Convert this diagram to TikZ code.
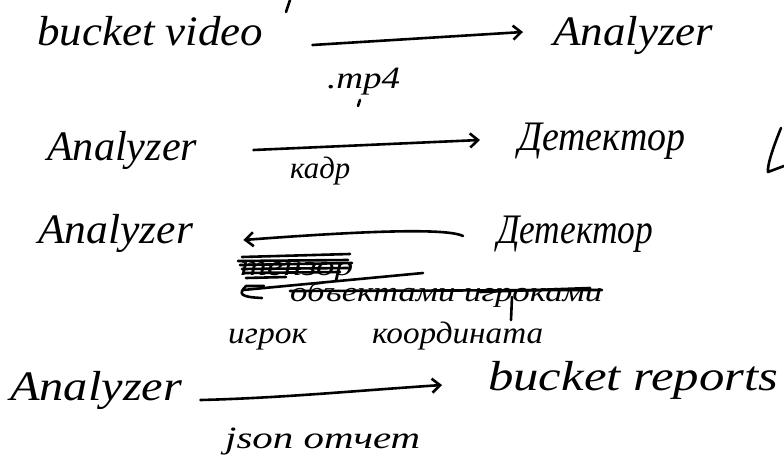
\documentclass[tikz,border=0pt]{standalone}
\usepackage{fontspec}
\usepackage{graphicx}
\setmainfont{Liberation Serif}
\usetikzlibrary{arrows.meta,calc}
\newcommand{\fitw}[2]{\resizebox{#1pt}{\height}{#2}}
\begin{document}
\begin{tikzpicture}[x=1pt,y=-1pt,
  hw/.style={font=\fontsize{42}{48}\selectfont\itshape, inner sep=0pt, anchor=base west},
  lbl/.style={font=\fontsize{31}{36}\selectfont\itshape, inner sep=0pt, anchor=base west},
  sml/.style={font=\fontsize{28}{32}\selectfont\itshape, inner sep=0pt, anchor=base west},
  flow/.style={line width=2.6pt, line cap=round, -{Straight Barb[length=8pt,width=14pt,line width=2.6pt]}},
  ink/.style={line width=2.6pt, line cap=round, line join=round}]
\useasboundingbox[fill=white] (0,0) rectangle (784,458);

% row 1
\node[hw] (bv) at (37,45) {\fitw{226}{bucket video}};
\node[hw] (an1) at (553,45) {\fitw{160}{Analyzer}};
\node[lbl] (l1) at (327,88) {\fitw{73}{.mp4}};
\draw[flow] ($(bv.base east)+(49,0)$) -- ($(an1.base west)+(-30,-13)$);

% row 2
\node[hw] (an2) at (47,160) {\fitw{150}{Analyzer}};
\node[hw] (det1) at (518,150) {\fitw{167}{Детектор}};
\node[lbl] (l2) at (290,178) {\fitw{60}{кадр}};
\draw[flow] ($(an2.base east)+(56,-10)$) -- ($(det1.base west)+(-38,-10)$);

% row 3
\node[hw] (an3) at (38,243) {\fitw{155}{Analyzer}};
\node[hw] (det2) at (497,243) {\fitw{156}{Детектор}};
\draw[flow] ($(det2.base west)+(-34,-7)$) .. controls +(-20,-10) and +(80,-6) .. ($(an3.base east)+(50,-3)$);

% crossed-out labels
\node[sml] (t1) at (240,275) {\fitw{113}{тензор}};
\node[sml] (t2) at (290,301) {\fitw{312}{объектами игроками}};
\draw[ink] ($(t1.base west)+(2,-18)$) -- ++(108,-3);
\draw[ink] ($(t1.base west)+(-2,-14)$) -- ++(110,-1);
\draw[ink] ($(t1.base west)+(0,-10)$) -- ++(112,-2);
\draw[ink] ($(t1.base west)+(2,-6)$) -- ++(106,-1);
\draw[ink] ($(t1.base west)+(4,-2)$) -- ++(96,-1);
\draw[ink] ($(t1.base west)+(6,3)$) -- ++(40,-1);
\draw[ink] ($(t1.base west)+(3,15)$) -- ($(t1.base west)+(183,-2)$);
\draw[ink] ($(t2.base west)+(-28,-3)$) .. controls +(-22,-1) and +(-8,8) .. ($(t2.base west)+(-44,-15)$) -- ($(t2.base west)+(-26,-15)$);
\draw[ink] ($(t2.base west)+(0,-10)$) -- ($(t2.base west)+(312,-11)$);
\draw[ink] ($(t2.base west)+(190,-9)$) -- ($(t2.base west)+(300,-13)$);
\draw[ink] ($(t2.base west)+(222,-4)$) -- ($(t2.base west)+(221,19)$);

\node[lbl] (t3a) at (228,343) {\fitw{79}{игрок}};
\node[lbl] (t3b) at (372,343) {\fitw{171}{координата}};

% row 4
\node[hw] (an4) at (10,400) {\fitw{172}{Analyzer}};
\node[hw] (br) at (488,390) {\fitw{290}{bucket reports}};
\node[lbl] (l4) at (225,448) {\fitw{195}{json отчет}};
\draw[flow] ($(an4.base east)+(18,0)$) .. controls +(80,-2) and +(-90,6) .. ($(br.base west)+(-46,-5)$);

% fragments of cut-off strokes
\draw[ink] (286,12) -- (290,0);
\draw[ink] (358,106) -- (360,100);
\draw[ink] (781,128) .. controls (774,145) and (767,165) .. (768,172) -- (784,166);
\end{tikzpicture}
\end{document}
